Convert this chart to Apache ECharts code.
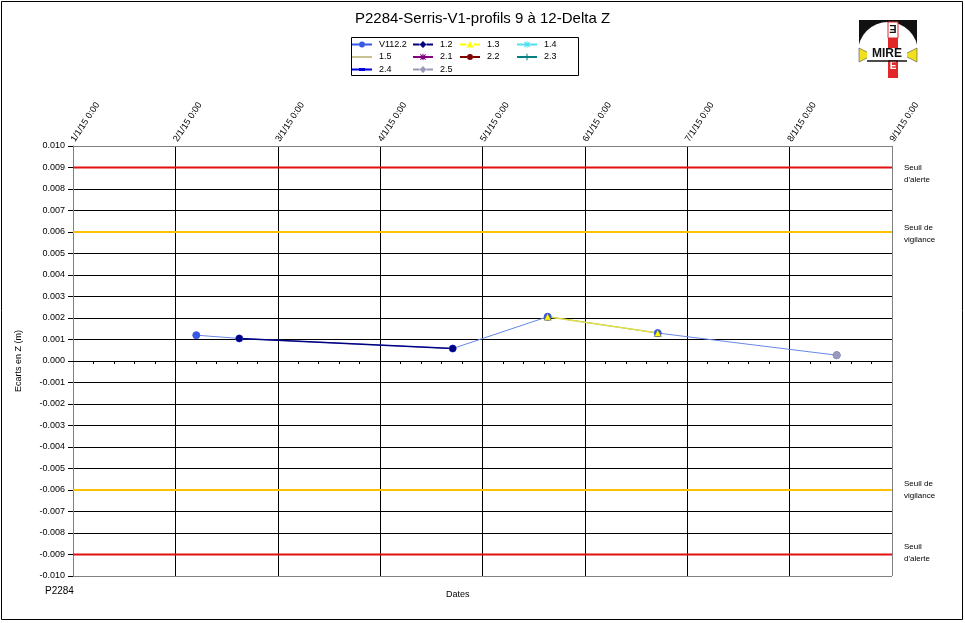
<!DOCTYPE html>
<html><head><meta charset="utf-8">
<script src="https://cdn.jsdelivr.net/npm/echarts@6/dist/echarts.min.js"></script>
<style>html,body{margin:0;padding:0;background:#fff}#c{width:965px;height:623px}</style>
</head><body><div id="c"></div>
<script>
// ---- data ----
const chartTitle = 'P2284-Serris-V1-profils 9 à 12-Delta Z';
const axisStart = '2015-01-01T00:00';
const axisEnd = '2015-09-01T00:00';
const xTickLabels = ['1/1/15 0:00','2/1/15 0:00','3/1/15 0:00','4/1/15 0:00','5/1/15 0:00','6/1/15 0:00','7/1/15 0:00','8/1/15 0:00','9/1/15 0:00'];
const yAxisName = 'Ecarts en Z (m)';
const xAxisName = 'Dates';
const footerText = 'P2284';
const seriesNames = ['V112.2','1.2','1.3','1.4','1.5','2.1','2.2','2.3','2.4','2.5'];
const legendColumns = [['V112.2','1.5','2.4'],['1.2','2.1','2.5'],['1.3','2.2'],['1.4','2.3']];
const datesV112 = ['2015-02-06T14:00','2015-02-19T08:00','2015-04-23T16:00','2015-05-21T20:00','2015-06-23T12:00','2015-08-15T14:00'];
const valuesV112 = [0.0012, 0.00105, 0.00058, 0.00206, 0.0013, 0.00027];
const dates12 = ['2015-02-19T08:00','2015-04-23T16:00'];
const values12 = [0.00105, 0.00058];
const dates13 = ['2015-05-21T20:00','2015-06-23T12:00'];
const values13 = [0.00206, 0.0013];
const dates25 = ['2015-08-15T14:00'];
const values25 = [0.00027];
const thresholds = [0.009, 0.006, -0.006, -0.009];
const thresholdLabels = ["Seuil\nd'alerte", "Seuil de\nvigilance", "Seuil de\nvigilance", "Seuil\nd'alerte"];
const thresholdColors = ['#E01010', '#FFC000', '#FFC000', '#E01010'];

// ---- helpers ----
function dayOf(s){ return (Date.parse(s + 'Z') - Date.parse(axisStart + 'Z')) / 86400000; }
const xMax = dayOf(axisEnd);
const xInterval = xMax / (xTickLabels.length - 1);
function pts(d, v){ return d.map((s,i)=>[dayOf(s), v[i]]); }

const FONT = 'Liberation Sans, Arial, sans-serif';
const ySplitColors = []; for (let i = 0; i <= 20; i++) ySplitColors.push(i===0||i===20 ? '#808080' : '#000');
const xSplitColors = []; for (let i = 0; i < xTickLabels.length; i++) xSplitColors.push(i===0||i===xTickLabels.length-1 ? '#808080' : '#000');

// marker symbols for the plot
const P_PLUS = 'path://M4.4,0H5.6V10H4.4Z M0,4.4H10V5.6H0Z';
const P_X = 'M0.8,0L10,9.2L9.2,10L0,0.8Z M9.2,0L10,0.8L0.8,10L0,9.2Z';
const P_AST = 'path://M4.4,0H5.6V10H4.4Z M0,4.4H10V5.6H0Z ' + P_X;
const P_STAR = 'path://M4.4,0H5.6V10H4.4Z ' + P_X;

// legend icons (line + marker, 20x8 box)
const L_BOUNDS = 'M0,0L0.01,0L0,0.01Z M0,8L0.01,8L0,7.99Z ';
const L_FULL = 'M0,3H20V5H0Z ';
function splitLine(a, b){ return 'M0,3H' + a + 'V5H0Z M' + b + ',3H20V5H' + b + 'Z '; }
const I_CIRCLE = 'path://' + L_BOUNDS + splitLine(7, 13) + 'M7,4A3,3 0 1 1 13,4A3,3 0 1 1 7,4Z';
const I_DIAMOND = 'path://' + L_BOUNDS + splitLine(6.5, 13.5) + 'M10,0.5L13.5,4L10,7.5L6.5,4Z';
const I_TRIANGLE = 'path://' + L_BOUNDS + splitLine(6.4, 13.6) + 'M10,0.8L13.6,7L6.4,7Z';
const I_VERT = 'M9.5,0.8H10.5V7.2H9.5Z ';
const I_HOR = 'M6.5,3.5H13.5V4.5H6.5Z ';
const I_DIAG = 'M7,1.7L7.7,1L13,6.3L12.3,7Z M12.3,1L13,1.7L7.7,7L7,6.3Z ';
const I_AST = 'path://' + L_BOUNDS + L_FULL + I_VERT + I_HOR + I_DIAG;
const I_STAR = 'path://' + L_BOUNDS + L_FULL + I_VERT + I_DIAG;
const I_PLUS = 'path://' + L_BOUNDS + L_FULL + I_VERT;
const I_DASH = 'path://' + L_BOUNDS + L_FULL + 'M7,2.5H13V5.5H7Z';
const I_LINE = 'path://' + L_BOUNDS + L_FULL;

const styles = {
  'V112.2': {color:'#3858E8', line:'#6888E8', width:1, symbol:'circle', size:7, icon:I_CIRCLE},
  '1.2': {color:'#000080', line:'#000080', width:1.5, symbol:'circle', size:6, icon:I_DIAMOND},
  '1.3': {color:'#FFFF00', line:'#E0E040', width:1.5, symbol:'triangle', size:7, border:'#555', icon:I_TRIANGLE},
  '1.4': {color:'#50E0F0', line:'#50E0F0', width:1.5, symbol:P_AST, size:7, icon:I_AST},
  '1.5': {color:'#C8C090', line:'#C8C090', width:1.5, symbol:'none', size:0, icon:I_LINE},
  '2.1': {color:'#800080', line:'#800080', width:1.5, symbol:P_STAR, size:7, icon:I_STAR},
  '2.2': {color:'#800000', line:'#800000', width:1.5, symbol:'circle', size:6, icon:I_CIRCLE},
  '2.3': {color:'#008080', line:'#008080', width:1.5, symbol:P_PLUS, size:7, icon:I_PLUS},
  '2.4': {color:'#0000E0', line:'#0000E0', width:1.5, symbol:'rect', size:[6,2], icon:I_DASH},
  '2.5': {color:'#9A9AB8', line:'#9A9AB8', width:1.5, symbol:'circle', size:7, icon:I_DIAMOND}
};
const dataMap = {
  'V112.2': pts(datesV112, valuesV112),
  '1.2': pts(dates12, values12),
  '1.3': pts(dates13, values13),
  '2.5': pts(dates25, values25)
};

const labelShift = [6, 2, 0, -2];
const thresholdSeries = thresholds.map((t, i) => ({
  name: 'seuil' + i, type: 'line', xAxisIndex: 0, yAxisIndex: 0,
  data: [[0, t], [xMax, t]], symbol: 'none', silent: true, animation: false, z: 2,
  lineStyle: {color: thresholdColors[i], width: 2},
  endLabel: {show: true, formatter: thresholdLabels[i], color: '#000', fontSize: 8, lineHeight: 12, distance: 12, offset: [0, labelShift[i]], fontFamily: FONT}
}));

const dataSeries = seriesNames.map(n => {
  const st = styles[n];
  return {
    name: n, type: 'line', xAxisIndex: 0, yAxisIndex: 0,
    data: dataMap[n] || [],
    symbol: st.symbol, symbolSize: st.size, showSymbol: st.symbol !== 'none',
    itemStyle: {color: st.color, borderColor: st.border || st.color, borderWidth: st.border ? 0.6 : 1},
    lineStyle: {color: st.line, width: st.width},
    animation: false, z: 3
  };
});

const legends = legendColumns.map((col, i) => ({
  data: col.map(n => ({name: n, icon: styles[n].icon, itemStyle: {color: styles[n].color, borderWidth: 0}})),
  orient: 'vertical', left: [352, 413, 460, 517][i], top: 40,
  padding: 0, itemGap: 3.5, itemWidth: 20, itemHeight: 8, selectedMode: false,
  itemStyle: {borderWidth: 0},
  textStyle: {fontSize: 9, fontFamily: FONT, color: '#000', padding: [0,0,0,2]}
}));

const chart = echarts.init(document.getElementById('c'));
chart.setOption({
  backgroundColor: '#fff',
  animation: false,
  title: {text: chartTitle, left: 'center', top: 6, textStyle: {fontSize: 15, fontWeight: 'normal', color: '#000', fontFamily: FONT}},
  legend: legends,
  grid: {left: 73, right: 73, top: 146, bottom: 47},
  xAxis: [
    {type: 'value', min: 0, max: xMax, interval: xInterval, position: 'bottom',
     axisLine: {show: true, onZero: true, lineStyle: {color: '#000', width: 1}},
     axisTick: {show: false}, minorTick: {show: true, splitNumber: 5, length: 3, lineStyle: {color: '#000'}},
     axisLabel: {show: false},
     splitLine: {show: true, lineStyle: {color: xSplitColors, width: 1}}},
    {type: 'value', min: 0, max: xMax, interval: xInterval, position: 'top',
     axisLine: {show: true, onZero: false, lineStyle: {color: '#808080'}},
     axisTick: {show: false},
     axisLabel: {rotate: -57, fontSize: 9, fontFamily: FONT, color: '#000', margin: 5,
       formatter: v => xTickLabels[Math.round(v / xInterval)]},
     splitLine: {show: false}}
  ],
  yAxis: {type: 'value', min: -0.01, max: 0.01, interval: 0.001,
    name: yAxisName, nameLocation: 'middle', nameGap: 50, nameRotate: 90,
    nameTextStyle: {fontSize: 9, fontFamily: FONT, color: '#000'},
    axisLine: {show: true, lineStyle: {color: '#808080'}},
    axisTick: {show: true, length: 5, lineStyle: {color: '#000'}},
    axisLabel: {fontSize: 9, fontFamily: FONT, color: '#000', margin: 8,
      formatter: v => (Math.abs(v) < 1e-9 ? 0 : v).toFixed(3)},
    splitLine: {show: true, lineStyle: {color: ySplitColors, width: 1}}},
  series: thresholdSeries.concat(dataSeries),
  graphic: [
    {type: 'rect', shape: {x: 1.5, y: 1.5, width: 961, height: 618}, style: {fill: 'none', stroke: '#000', lineWidth: 1}, silent: true},
    {type: 'rect', shape: {x: 351.5, y: 37.5, width: 227, height: 38}, style: {fill: 'none', stroke: '#000', lineWidth: 1}, silent: true, z: -1},
    {type: 'text', left: 446, top: 590, style: {text: xAxisName, fontSize: 9, fontFamily: FONT, fill: '#000'}},
    {type: 'text', left: 45, top: 586, style: {text: footerText, fontSize: 10, fontFamily: FONT, fill: '#000'}},
    {type: 'group', left: 858, top: 20, silent: true, children: [
      {type: 'rect', shape: {x: 0, y: 0, width: 58, height: 29}, style: {fill: '#111'}},
      {type: 'circle', shape: {cx: 29, cy: 32, r: 30}, style: {fill: '#fff'}},
      {type: 'rect', shape: {x: 0, y: 29, width: 58, height: 30}, style: {fill: '#fff'}},
      {type: 'polygon', shape: {points: [[0,28],[0,42],[14,35]]}, style: {fill: '#F0E020', stroke: '#333', lineWidth: 0.5}},
      {type: 'polygon', shape: {points: [[58,28],[58,42],[44,35]]}, style: {fill: '#F0E020', stroke: '#333', lineWidth: 0.5}},
      {type: 'rect', shape: {x: 29, y: 2, width: 10, height: 56}, style: {fill: '#E02828'}},
      {type: 'rect', shape: {x: 29, y: 2, width: 10, height: 16}, style: {fill: '#fff', stroke: '#E02828', lineWidth: 1}},
      {type: 'text', x: 34, y: 10, style: {text: 'Ǝ', fontSize: 11, fontWeight: 'bold', fill: '#111', align: 'center', verticalAlign: 'middle', fontFamily: FONT}},
      {type: 'text', x: 34, y: 46, style: {text: 'E', fontSize: 10, fontWeight: 'bold', fill: '#fff', align: 'center', verticalAlign: 'middle', fontFamily: FONT}},
      {type: 'rect', shape: {x: 8, y: 28, width: 40, height: 12}, style: {fill: '#fff'}},
      {type: 'text', x: 28, y: 34, style: {text: 'MIRE', fontSize: 12, fontWeight: 'bold', fill: '#111', align: 'center', verticalAlign: 'middle', fontFamily: FONT}},
      {type: 'line', shape: {x1: 8, y1: 41, x2: 48, y2: 41}, style: {stroke: '#111', lineWidth: 1.5}}
    ]}
  ]
});
</script></body></html>
